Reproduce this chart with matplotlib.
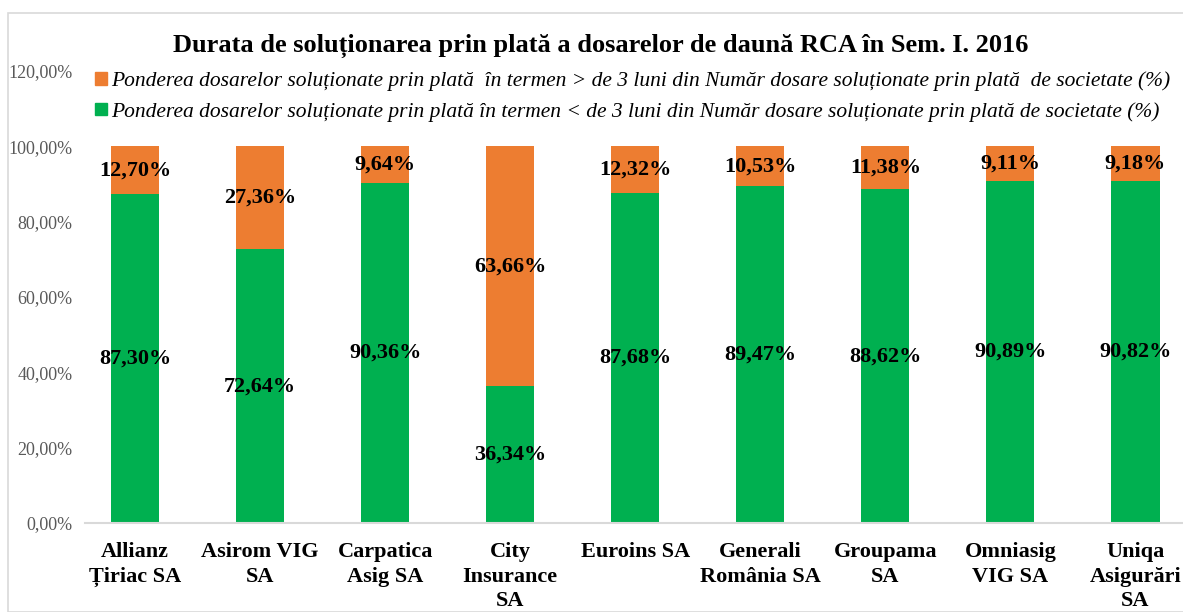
import matplotlib.pyplot as plt
from matplotlib.patches import Patch, Rectangle

companies = ["Allianz\nȚiriac SA", "Asirom VIG\nSA", "Carpatica\nAsig SA", "City\nInsurance\nSA",
             "Euroins SA", "Generali\nRomânia SA", "Groupama\nSA", "Omniasig\nVIG SA", "Uniqa\nAsigurări\nSA"]
under_3 = [87.30, 72.64, 90.36, 36.34, 87.68, 89.47, 88.62, 90.89, 90.82]
over_3 = [12.70, 27.36, 9.64, 63.66, 12.32, 10.53, 11.38, 9.11, 9.18]

label_over = "Ponderea dosarelor soluționate prin plată  în termen > de 3 luni din Număr dosare soluționate prin plată  de societate (%)"
label_under = "Ponderea dosarelor soluționate prin plată în termen < de 3 luni din Număr dosare soluționate prin plată de societate (%)"
title = "Durata de soluționarea prin plată a dosarelor de daună RCA în Sem. I. 2016"

GREEN = "#00B050"
ORANGE = "#ED7D31"

plt.rcParams['font.family'] = ['Liberation Serif', 'DejaVu Serif']

fig = plt.figure(figsize=(11.83, 6.12), dpi=100)
fig.patches.append(Rectangle((8 / 1183, 0), 1.0, 1 - 13 / 612, transform=fig.transFigure,
                             fill=False, edgecolor="#D9D9D9", linewidth=1.2))
ax = fig.add_axes([85 / 1183, 89 / 612, 1 - 85 / 1183, (523 - 71) / 612])

x = range(len(companies))
ax.bar(x, under_3, width=0.385, color=GREEN, zorder=2)
ax.bar(x, over_3, width=0.385, bottom=under_3, color=ORANGE, zorder=2)

for i in x:
    ax.text(i, under_3[i] / 2, f"{under_3[i]:.2f}%".replace(".", ","), ha="center", va="center",
            fontsize=16, fontweight="bold", color="black")
    ax.text(i, under_3[i] + over_3[i] / 2, f"{over_3[i]:.2f}%".replace(".", ","), ha="center", va="center",
            fontsize=16, fontweight="bold", color="black")

ax.set_ylim(0, 120)
ax.set_xlim(-0.4, 8.38)
ax.set_yticks(range(0, 121, 20))
ax.set_yticklabels([f"{v},00%" for v in range(0, 121, 20)], fontsize=13, color="#595959")
ax.set_xticks(list(x))
ax.set_xticklabels(companies, fontsize=16, fontweight="bold", linespacing=1.3, va="top")
ax.tick_params(axis="both", length=0)
ax.tick_params(axis="x", pad=14)
ax.tick_params(axis="y", pad=9)
for s in ["top", "right", "left"]:
    ax.spines[s].set_visible(False)
ax.spines["bottom"].set_color("#D9D9D9")
ax.spines["bottom"].set_linewidth(1.5)

fig.text(0.508, 1 - 46 / 612, title, ha="center", va="center", fontsize=19, fontweight="bold")

handles = [Patch(color=ORANGE, label=label_over), Patch(color=GREEN, label=label_under)]
fig.legend(handles=handles, loc="upper left", bbox_to_anchor=(76 / 1183, 1 - 52 / 612),
           frameon=False, prop={"style": "italic", "size": 15.5}, handlelength=0.55, handleheight=0.55,
           handletextpad=0.2, labelspacing=0.5)

fig.savefig("out.png", dpi=100)
